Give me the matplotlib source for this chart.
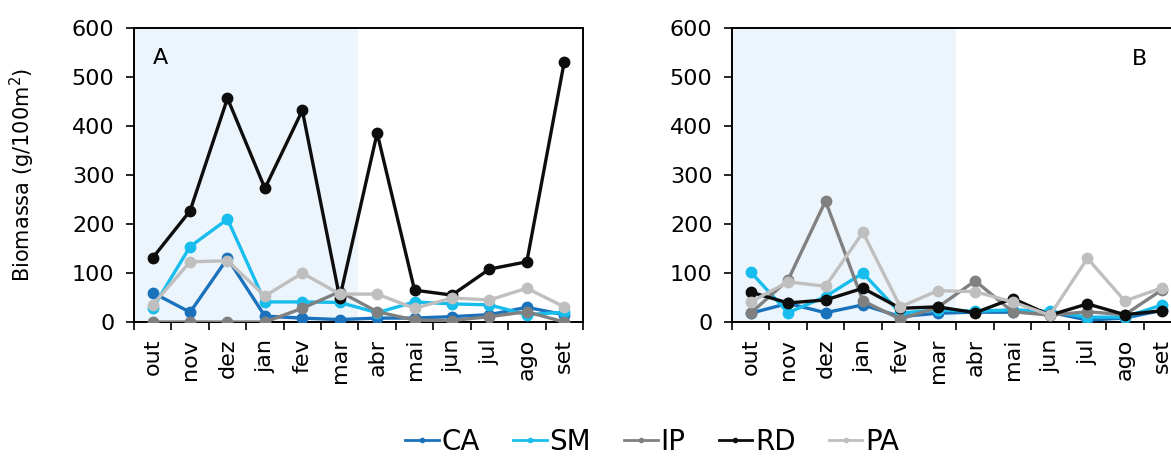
import numpy as np
import matplotlib
matplotlib.use("Agg")
import matplotlib.pyplot as plt
from matplotlib.lines import Line2D

months = ["out", "nov", "dez", "jan", "fev", "mar", "abr", "mai", "jun", "jul", "ago", "set"]
series = ["CA", "SM", "IP", "RD", "PA"]
colors = {"CA": "#1a72bd", "SM": "#17bdec", "IP": "#808080", "RD": "#0d0d0d", "PA": "#bfbfbf"}

# panel A
caA = [60, 20, 130, 12, 8, 5, 8, 8, 11, 15, 30, 15]
smA = [28, 154, 210, 41, 41, 40, 19, 41, 37, 35, 15, 20]
ipA = [0, 0, 0, 0, 28, 62, 21, 4, 3, 11, 21, 0]
rdA = [131, 227, 457, 273, 432, 49, 386, 65, 55, 108, 123, 531]
paA = [35, 123, 125, 53, 100, 57, 57, 28, 49, 45, 69, 31]

# panel B
caB = [18, 38, 19, 35, 11, 18, 20, 20, 20, 4, 8, 24]
smB = [102, 19, 52, 100, 18, 25, 22, 25, 22, 10, 10, 35]
ipB = [18, 86, 247, 43, 6, 30, 84, 21, 14, 21, 15, 66]
rdB = [61, 39, 45, 69, 28, 31, 19, 48, 14, 37, 15, 23]
paB = [41, 82, 73, 183, 31, 64, 62, 41, 14, 130, 43, 70]

dataA = dict(zip(series, [caA, smA, ipA, rdA, paA]))
dataB = dict(zip(series, [caB, smB, ipB, rdB, paB]))

plt.rcParams["font.family"] = ["DejaVu Sans"]

fig = plt.figure(figsize=(11.71, 4.62), dpi=100)
axA = fig.add_axes([0.1144, 0.303, 0.3834, 0.636])
axB = fig.add_axes([0.6251, 0.303, 0.3834, 0.636])

x = np.arange(len(months))
for ax, data, label, lx, ly in [(axA, dataA, "A", 0.042, 0.90), (axB, dataB, "B", 0.89, 0.895)]:
    # shaded months (out-mar)
    ax.axvspan(-0.5, 5.5, color="#edf5fc", zorder=0, lw=0)
    for s in series:
        ax.plot(x, data[s], color=colors[s], lw=2.4, marker="o", ms=7.5, zorder=3)
    ax.set_xlim(-0.5, 11.5)
    ax.set_ylim(0, 600)
    ax.set_yticks(range(0, 601, 100))
    ax.set_xticks(x)
    ax.set_xticklabels(months, rotation=90, fontsize=16)
    ax.set_xticks(np.arange(-0.5, 12, 1), minor=True)
    ax.tick_params(axis="x", which="major", length=0, pad=12)
    ax.tick_params(axis="x", which="minor", length=6, width=1.2, direction="out")
    ax.tick_params(axis="y", labelsize=16, length=6, width=1.2, direction="out", pad=8)
    for sp in ax.spines.values():
        sp.set_linewidth(1.4)
        sp.set_color("black")
    ax.text(lx, ly, label, transform=ax.transAxes, fontsize=16, ha="left", va="center")

axA.set_ylabel("Biomassa (g/100m$^2$)", fontsize=15)
axA.yaxis.set_label_coords(-0.215, 0.5)

handles = [Line2D([], [], color=colors[s], lw=2, marker="o", ms=3) for s in series]
fig.legend(handles, series, loc="center", bbox_to_anchor=(0.557, 0.043), ncol=5, frameon=False,
           fontsize=20, handlelength=1.2, handletextpad=0.1, columnspacing=1.2)

fig.savefig("out.png", dpi=100)
